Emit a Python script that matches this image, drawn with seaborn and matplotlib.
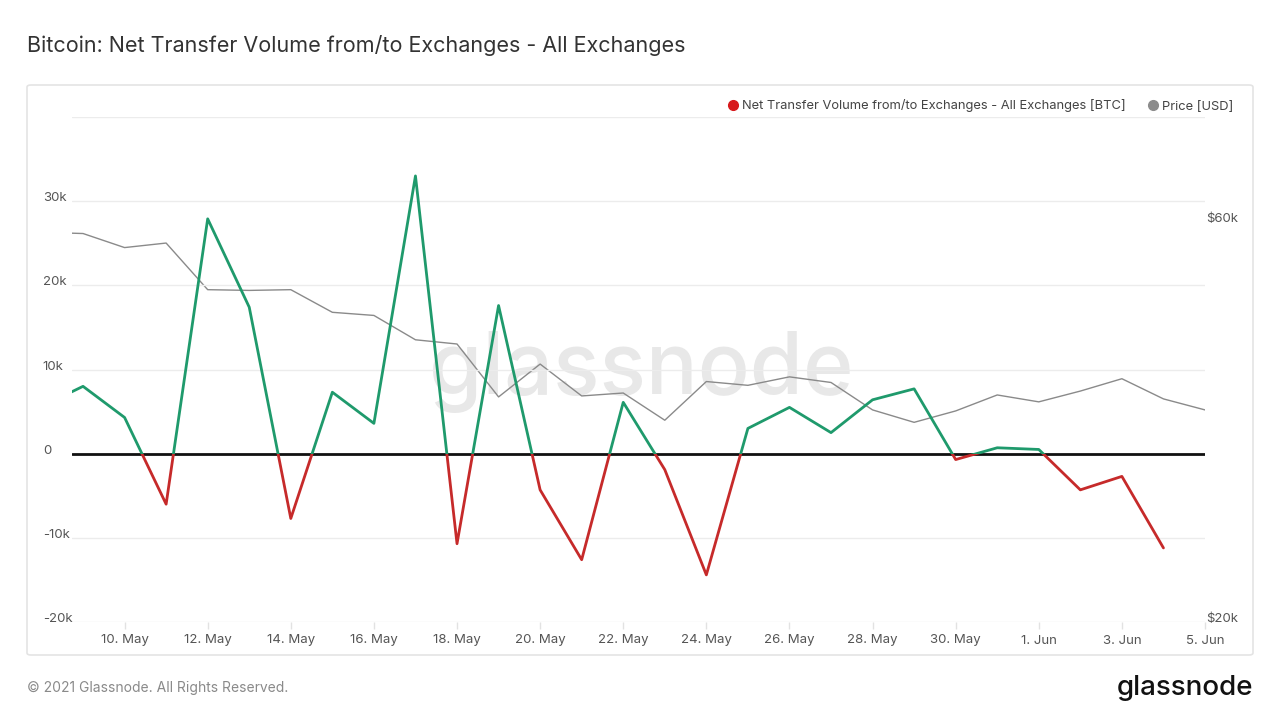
"""Bitcoin net transfer volume from/to exchanges, with price on a log axis."""
import pandas as pd
import matplotlib.pyplot as plt
import seaborn as sns
from matplotlib.lines import Line2D
from matplotlib.patches import Rectangle, FancyBboxPatch
from matplotlib import transforms

# daily values
flow_dates = pd.date_range('2021-05-08', '2021-06-04', freq='D')
net_flow = [5.6, 8.0, 4.3, -6.0, 27.9, 17.4, -7.7, 7.3, 3.6, 33.0,
            -10.7, 17.6, -4.3, -12.6, 6.1, -1.9, -14.4, 3.0, 5.5, 2.5,
            6.4, 7.7, -0.7, 0.7, 0.5, -4.3, -2.7, -11.2]  # thousand BTC

price_dates = pd.date_range('2021-05-08', '2021-06-05', freq='D')
price = [58.3, 58.1, 55.9, 56.6, 49.8, 49.7, 49.8, 46.8, 46.4, 43.4,
         42.9, 37.1, 40.6, 37.2, 37.5, 34.8, 38.7, 38.3, 39.2, 38.6,
         35.8, 34.6, 35.7, 37.3, 36.6, 37.7, 39.0, 36.9, 35.8]  # thousand USD

flow_ticks = [-20, -10, 0, 10, 20, 30]
flow_tick_labels = ['-20k', '-10k', '0', '10k', '20k', '30k']
price_ticks = [20, 60]
price_tick_labels = ['$20k', '$60k']
date_ticks = pd.date_range('2021-05-10', '2021-06-05', freq='2D')

GREEN = '#1f9a6c'
RED = '#c62a2a'
GREY = '#8a8a8a'
TICK_COLOR = '#555555'

sns.set_theme(style='white')
plt.rcParams['font.family'] = ['Inter', 'DejaVu Sans']

fig = plt.figure(figsize=(12.8, 7.2), dpi=100)
fig.patch.set_facecolor('white')

# panel frame
fig.add_artist(FancyBboxPatch((27 / 1280, 1 - 655 / 720), 1226 / 1280, 570 / 720,
                              boxstyle='round,pad=0,rounding_size=0.003',
                              transform=fig.transFigure, facecolor='none',
                              edgecolor='#e4e4e4', linewidth=1.2, zorder=-2))

ax = fig.add_axes([72 / 1280, 1 - 622 / 720, 1133 / 1280, 505 / 720])
ax2 = ax.twinx()
ax.set_zorder(ax2.get_zorder() + 1)
ax.patch.set_visible(False)

# price on right log axis
sns.lineplot(x=price_dates, y=[p * 1000 for p in price], ax=ax2,
             color=GREY, linewidth=1.0)
ax2.set_yscale('log')
ax2.set_ylim(20000, 80000)
ax2.set_yticks([p * 1000 for p in price_ticks])
ax2.set_yticklabels(price_tick_labels)
ax2.minorticks_off()
ax2.tick_params(axis='y', length=0, pad=1, labelsize=9.5, labelcolor=TICK_COLOR)
for lab in ax2.get_yticklabels():
    lab.set_va('baseline')

# net flow, green above zero, red below
ax.set_ylim(-20000, 40000)
ax.set_xlim(pd.Timestamp('2021-05-08 17:38'), pd.Timestamp('2021-06-05'))
for val in range(-20000, 40001, 10000):
    if val != 0:
        ax.axhline(val, color='#ececec', linewidth=1, zorder=0)

flow_vals = [v * 1000 for v in net_flow]
sns.lineplot(x=flow_dates, y=flow_vals, ax=ax, color=GREEN, linewidth=2)
pos_line = ax.lines[-1]
sns.lineplot(x=flow_dates, y=flow_vals, ax=ax, color=RED, linewidth=2)
neg_line = ax.lines[-1]
blend = transforms.blended_transform_factory(ax.transAxes, ax.transData)
pos_line.set_clip_path(Rectangle((0, 0), 1, 1e9, transform=blend))
neg_line.set_clip_path(Rectangle((0, -1e9), 1, 1e9, transform=blend))
ax.axhline(0, color='#111111', linewidth=2, zorder=1)

ax.set_yticks([t * 1000 for t in flow_ticks])
ax.set_yticklabels(flow_tick_labels)
ax.tick_params(axis='y', length=0, pad=21, labelsize=9.5, labelcolor=TICK_COLOR)
for lab in ax.get_yticklabels():
    lab.set_ha('left')
    lab.set_va('baseline')

ax.set_xticks(date_ticks)
ax.set_xticklabels([f"{d.day}. {d.strftime('%b')}" for d in date_ticks])
ax.tick_params(axis='x', length=5, width=1, color='#e2e2e2', pad=4,
               labelsize=9.5, labelcolor=TICK_COLOR, bottom=True)
ax.set_xlabel('')
ax.set_ylabel('')
ax2.set_ylabel('')
for a in (ax, ax2):
    for s in a.spines.values():
        s.set_visible(False)

# watermark behind the lines
fig.text(641 / 1280, 1 - 372 / 720, 'glassnode', fontsize=62, color='#e8e8e8',
         ha='center', va='center', zorder=-1, fontweight='medium')

# legend
handles = [Line2D([], [], marker='o', linestyle='', color='#d7191c', markersize=7),
           Line2D([], [], marker='o', linestyle='', color='#8c8c8c', markersize=7)]
fig.legend(handles, ['Net Transfer Volume from/to Exchanges - All Exchanges [BTC]',
                     'Price [USD]'],
           loc='center right', bbox_to_anchor=(1245 / 1280, 1 - 106 / 720),
           ncol=2, frameon=False, fontsize=9.3, handletextpad=0.2,
           columnspacing=1.6, handlelength=1.0, labelcolor='#444444')

fig.text(27 / 1280, 1 - 45 / 720,
         'Bitcoin: Net Transfer Volume from/to Exchanges - All Exchanges',
         fontsize=15.5, color='#333333', ha='left', va='center')
fig.text(27 / 1280, 1 - 688 / 720, '© 2021 Glassnode. All Rights Reserved.',
         fontsize=10, color='#8a8a8a', ha='left', va='center')
fig.text(1253 / 1280, 1 - 688 / 720, 'glassnode', fontsize=20, color='#111111',
         ha='right', va='center', fontweight='medium')

plt.savefig('out.png', dpi=100)
plt.close()
